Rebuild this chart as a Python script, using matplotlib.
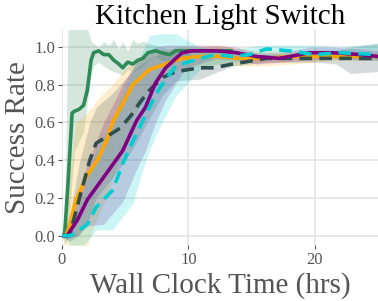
import numpy as np
import matplotlib
matplotlib.use('Agg')
import matplotlib.pyplot as plt

plt.rcParams['font.family'] = ['Liberation Serif', 'DejaVu Serif']

title = 'Kitchen Light Switch'

# green
t_green = [0, 0.2, 0.5, 0.8, 1.0, 1.35, 1.7, 2.0, 2.3, 2.5, 2.9, 3.3, 3.7, 4.1, 4.5, 4.8, 5.2, 5.6, 6.0, 6.4,
           6.8, 7.4, 7.9, 8.5, 9.0, 9.5, 10.0, 10.9, 12.2, 13.4]
m_green = [0, 0, 0.3, 0.65, 0.66, 0.67, 0.69, 0.77, 0.93, 0.97, 0.98, 0.96, 0.96, 0.93, 0.91, 0.89, 0.92, 0.91,
           0.93, 0.94, 0.97, 0.98, 0.97, 0.96, 0.98, 0.98, 0.98, 0.98, 0.98, 0.98]
lo_green = [0, -0.05, 0.0, 0.3, 0.45, 0.5, 0.55, 0.7, 0.85, 0.9, 0.92, 0.9, 0.88, 0.87, 0.86, 0.85, 0.88, 0.87,
            0.88, 0.9, 0.93, 0.95, 0.93, 0.92, 0.94, 0.95, 0.96, 0.96, 0.96, 0.97]
hi_green = [0, 0.05, 1.2, 1.2, 1.2, 1.2, 1.2, 1.1, 1.03, 1.02, 1.0, 1.03, 1.01, 1.04, 0.99, 1.03, 0.98, 1.04,
            1.02, 1.03, 1.02, 1.01, 1.0, 0.99, 1.0, 1.0, 1.0, 1.0, 1.0, 1.0]

# orange
t_orange = [0, 0.3, 0.6, 1.1, 2.0, 2.8, 3.5, 4.0, 4.8, 5.6, 6.9, 8.2, 9.5, 10.9, 12.5, 14, 16, 18, 20, 22, 25]
m_orange = [0, 0, 0.05, 0.19, 0.32, 0.4, 0.5, 0.6, 0.7, 0.8, 0.88, 0.91, 0.94, 0.95, 0.95, 0.94, 0.94, 0.95,
            0.95, 0.95, 0.95]
lo_orange = [0, -0.05, -0.06, -0.06, -0.05, 0.1, 0.2, 0.3, 0.45, 0.62, 0.78, 0.85, 0.89, 0.9, 0.91, 0.9, 0.9,
             0.91, 0.92, 0.93, 0.93]
hi_orange = [0, 0.15, 0.3, 0.6, 0.65, 0.72, 0.77, 0.8, 0.87, 0.92, 0.96, 0.99, 1.0, 1.0, 1.01, 0.99, 0.98,
             0.98, 0.98, 0.97, 0.97]

# dark slate (dashed)
t_slate = [0, 0.6, 1.35, 2.2, 2.7, 3.9, 4.6, 5.5, 6.1, 6.9, 8.0, 9.0, 10.9, 12.0, 13.5, 16.2, 18, 20, 21.7,
           22.8, 25]
m_slate = [0, 0, 0.19, 0.4, 0.49, 0.54, 0.57, 0.64, 0.7, 0.77, 0.84, 0.87, 0.89, 0.89, 0.91, 0.94, 0.94, 0.94,
           0.94, 0.94, 0.94]
lo_slate = [0, -0.03, 0.0, 0.1, 0.2, 0.3, 0.36, 0.45, 0.52, 0.62, 0.75, 0.82, 0.83, 0.86, 0.9, 0.92, 0.92,
            0.92, 0.91, 0.86, 0.87]
hi_slate = [0, 0.1, 0.38, 0.6, 0.68, 0.75, 0.8, 0.87, 0.9, 0.94, 0.97, 0.97, 0.96, 0.96, 0.96, 0.96, 0.96,
            0.96, 0.98, 1.0, 1.02]

# purple
t_purple = [0, 0.4, 1.2, 2.0, 3.3, 4.8, 5.9, 6.6, 7.4, 8.2, 9.5, 10.3, 12.2, 13.8, 15.4, 17.2, 19.6, 21.4,
            23.6, 25]
m_purple = [0, 0, 0.08, 0.19, 0.31, 0.45, 0.61, 0.68, 0.81, 0.89, 0.97, 0.98, 0.98, 0.97, 0.95, 0.94, 0.97,
            0.97, 0.96, 0.95]
lo_purple = [0, -0.02, 0.0, 0.05, 0.06, 0.18, 0.35, 0.45, 0.6, 0.72, 0.86, 0.9, 0.94, 0.93, 0.91, 0.92, 0.93,
             0.94, 0.93, 0.93]
hi_purple = [0, 0.05, 0.2, 0.38, 0.6, 0.8, 0.92, 0.97, 1.0, 1.01, 1.01, 1.01, 1.01, 1.0, 0.97, 0.97, 1.0,
             1.0, 0.99, 0.98]

# cyan (dashed)
t_cyan = [0, 0.7, 1.6, 2.0, 2.7, 4.0, 4.8, 5.6, 6.4, 6.9, 7.7, 9.0, 10.9, 12.2, 13.5, 14.8, 16.2, 18, 20, 22, 25]
m_cyan = [0, 0, 0.04, 0.06, 0.15, 0.24, 0.38, 0.5, 0.61, 0.68, 0.78, 0.9, 0.94, 0.96, 0.95, 0.96, 0.99, 0.98,
          0.96, 0.97, 0.96]
lo_cyan = [0, -0.05, -0.05, -0.03, 0.03, 0.03, 0.1, 0.17, 0.35, 0.45, 0.57, 0.74, 0.88, 0.91, 0.92, 0.93, 0.94,
           0.95, 0.95, 0.94, 0.93]
hi_cyan = [0, 0.08, 0.2, 0.3, 0.45, 0.62, 0.75, 0.88, 0.98, 1.06, 1.07, 1.07, 1.0, 0.99, 0.99, 1.0, 1.01,
           1.01, 1.01, 1.0, 1.02]

series = [
    (t_green, m_green, lo_green, hi_green, '#2e8b57', '-'),
    (t_orange, m_orange, lo_orange, hi_orange, '#ffa500', '-'),
    (t_slate, m_slate, lo_slate, hi_slate, '#2f4f4f', '--'),
    (t_purple, m_purple, lo_purple, hi_purple, '#800080', '-'),
    (t_cyan, m_cyan, lo_cyan, hi_cyan, '#00ced1', '--'),
]

fig = plt.figure(figsize=(3.78, 3.01), dpi=100)
ax = fig.add_axes([0.164, 0.186, 0.836, 0.714])

for t, m, lo, hi, col, ls in series:
    ax.fill_between(t, lo, hi, color=col, alpha=0.2, lw=0)
for t, m, lo, hi, col, ls in series:
    if ls == '--':
        ax.plot(t, m, color=col, lw=2.6, dashes=(3.5, 2))
    else:
        ax.plot(t, m, color=col, lw=2.6)

ax.set_xlim(0, 25)
ax.set_ylim(-0.05, 1.09)
ax.set_xticks([0, 10, 20])
ax.set_yticks([0.0, 0.2, 0.4, 0.6, 0.8, 1.0])
ax.set_yticklabels(['0.0', '0.2', '0.4', '0.6', '0.8', '1.0'])
ax.grid(True, color='#e6e6e6', lw=1.3)
ax.set_axisbelow(True)
for s in ax.spines.values():
    s.set_visible(False)
ax.tick_params(labelsize=12, colors='#555555', length=3, width=0.8, pad=2)

ax.set_title(title, fontsize=21, color='black', pad=3)
ax.set_xlabel('Wall Clock Time (hrs)', fontsize=21, color='#555555', labelpad=3)
ax.set_ylabel('Success Rate', fontsize=21, color='#555555', labelpad=2)

fig.savefig('out.png', dpi=100)
